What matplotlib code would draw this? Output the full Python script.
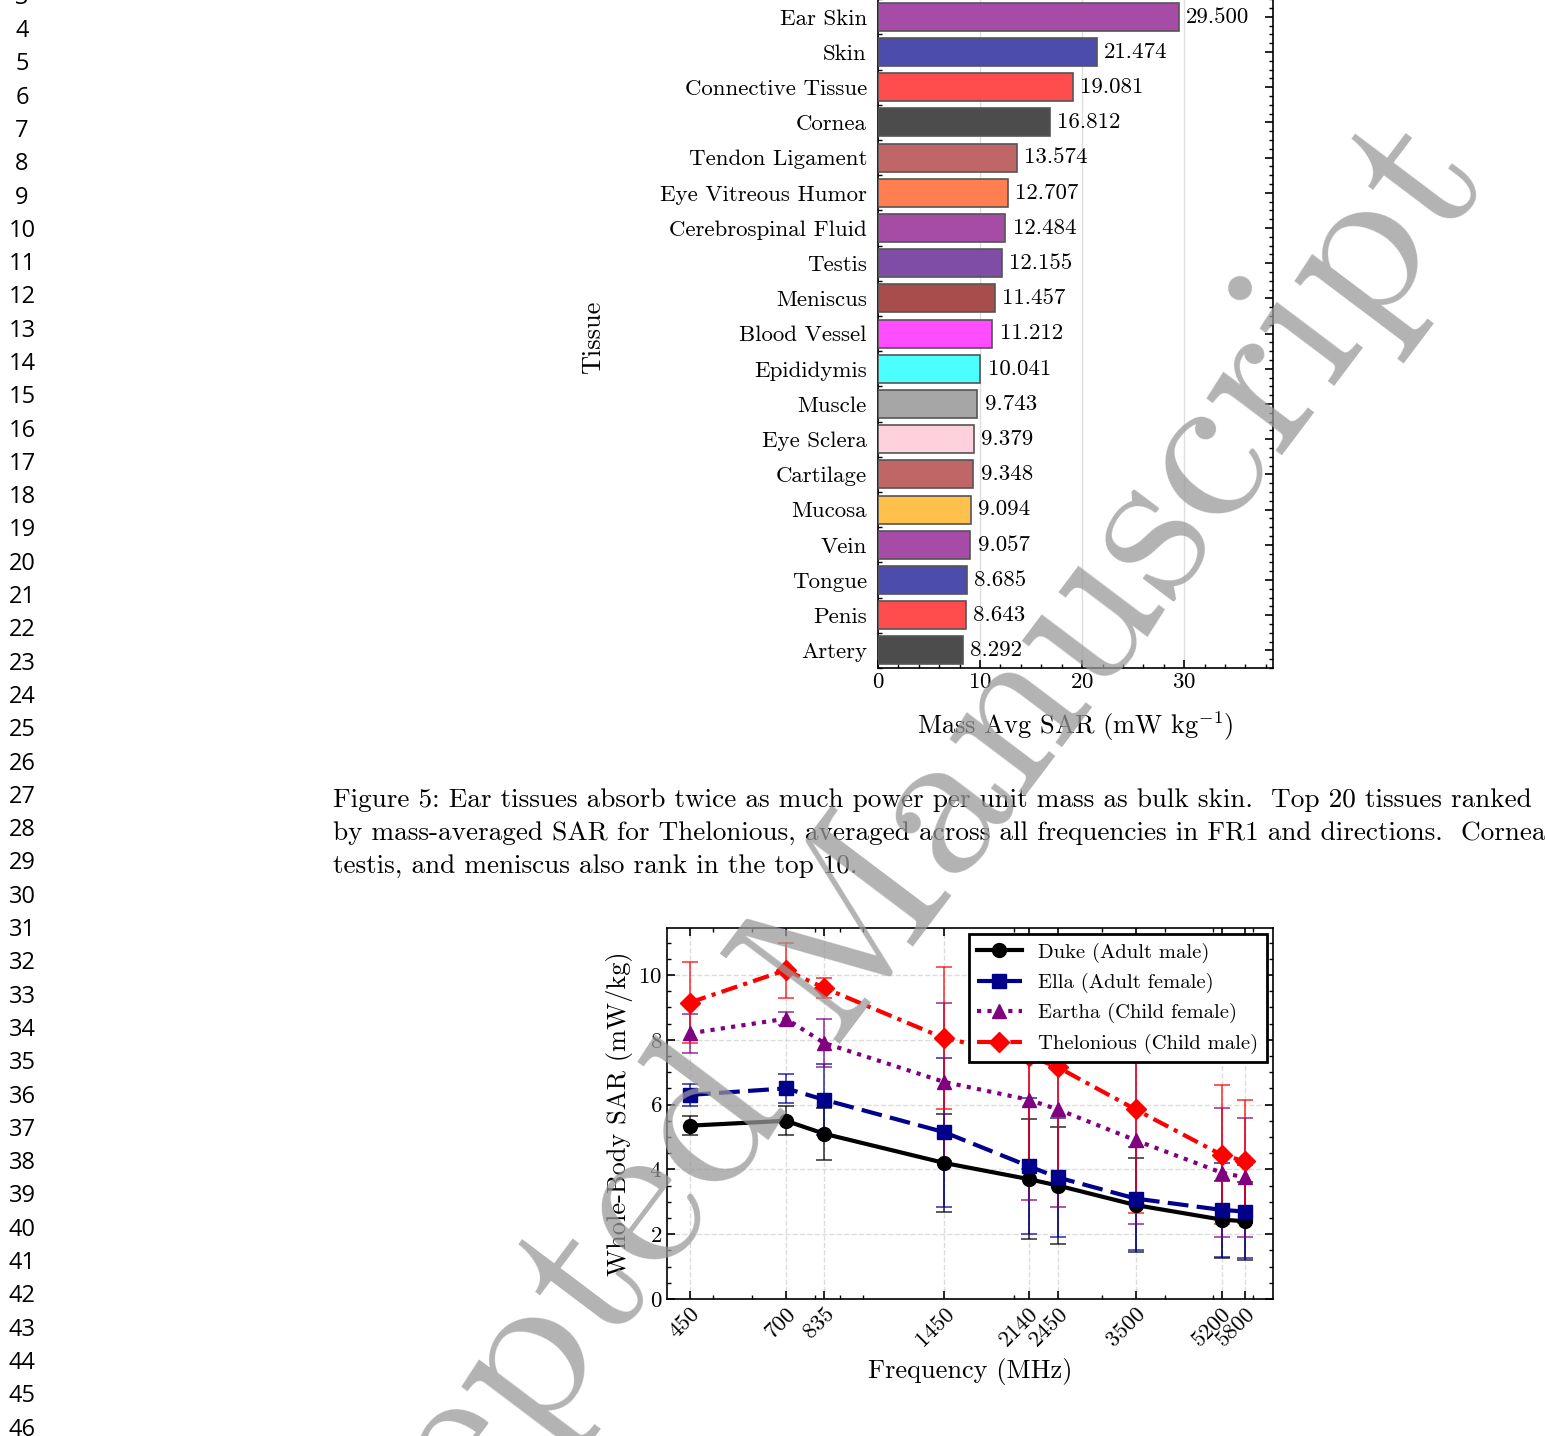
import numpy as np
import matplotlib
matplotlib.use('Agg')
import matplotlib.pyplot as plt
from matplotlib.lines import Line2D
from matplotlib.ticker import FixedLocator, NullFormatter, LogLocator, AutoMinorLocator

plt.rcParams['font.family'] = 'serif'
plt.rcParams['font.serif'] = ['cmr10', 'DejaVu Serif']
plt.rcParams['mathtext.fontset'] = 'cm'
plt.rcParams['axes.formatter.use_mathtext'] = True
plt.rcParams['axes.unicode_minus'] = False

# top chart: tissue SAR
tissues = ['Ear Skin', 'Skin', 'Connective Tissue', 'Cornea', 'Tendon Ligament',
           'Eye Vitreous Humor', 'Cerebrospinal Fluid', 'Testis', 'Meniscus',
           'Blood Vessel', 'Epididymis', 'Muscle', 'Eye Sclera', 'Cartilage',
           'Mucosa', 'Vein', 'Tongue', 'Penis', 'Artery']
sar = [29.500, 21.474, 19.081, 16.812, 13.574, 12.707, 12.484, 12.155, 11.457,
       11.212, 10.041, 9.743, 9.379, 9.348, 9.094, 9.057, 8.685, 8.643, 8.292]
bar_colors = ['#a64ca6', '#4c4cac', '#ff4c4c', '#4c4c4c', '#c16666', '#ff7f50',
              '#a64ca6', '#7f4ca6', '#a94c4c', '#ff4cff', '#4cffff', '#a6a6a6',
              '#ffd1dc', '#c16666', '#ffc04c', '#a64ca6', '#4c4cac', '#ff4c4c',
              '#4c4c4c']

# bottom chart: whole-body SAR vs frequency
freq = [450, 700, 835, 1450, 2140, 2450, 3500, 5200, 5800]
duke = [5.35, 5.5, 5.1, 4.2, 3.7, 3.5, 2.9, 2.45, 2.4]
duke_err = [0.3, 0.45, 0.8, 1.5, 1.85, 1.8, 1.45, 1.2, 1.2]
ella = [6.3, 6.5, 6.15, 5.15, 4.1, 3.75, 3.1, 2.75, 2.7]
ella_err = [0.35, 0.45, 1.1, 2.3, 2.1, 1.85, 1.6, 1.45, 1.45]
eartha = [8.2, 8.65, 7.9, 6.7, 6.15, 5.85, 4.9, 3.9, 3.75]
eartha_err = [0.6, 0.2, 0.75, 2.45, 3.1, 3.0, 2.6, 2.0, 1.85]
thel = [9.15, 10.15, 9.6, 8.05, 7.5, 7.15, 5.85, 4.45, 4.25]
thel_err = [1.25, 0.85, 0.3, 2.2, 3.5, 3.6, 3.2, 2.15, 1.9]

W, H = 1545, 1436
fig = plt.figure(figsize=(W / 100, H / 100), dpi=100)

def style_ax(ax, lsize):
    ax.tick_params(which='both', direction='in', top=True, right=True)
    ax.tick_params(which='major', length=6, width=1.2, labelsize=lsize)
    ax.tick_params(which='minor', length=3, width=1)
    for s in ax.spines.values():
        s.set_linewidth(1.2)

# ---- bar chart
ax1 = fig.add_axes([878 / W, (H - 668) / H, 395 / W, (668 + 36) / H])
y = np.arange(len(tissues))
ax1.barh(y, sar, height=0.8, color=bar_colors, edgecolor='#555555', linewidth=1.2, zorder=3)
for yi, v in zip(y, sar):
    ax1.text(v + 0.7, yi, f'{v:.3f}', va='center', ha='left', fontsize=16.5)
ax1.set_ylim(len(tissues) - 0.5, -1.5)
ax1.set_xlim(0, 38.7)
ax1.set_yticks(y)
ax1.set_yticklabels(tissues, fontsize=21)
ax1.set_xticks([0, 10, 20, 30])
ax1.xaxis.set_minor_locator(AutoMinorLocator(5))
ax1.yaxis.set_minor_locator(AutoMinorLocator(4))
ax1.grid(axis='x', color='#dddddd', linewidth=1, zorder=0)
style_ax(ax1, 16.5)
ax1.tick_params(axis='y', which='major', pad=8)
ax1.set_xlabel('Mass Avg SAR (mW kg$^{-1}$)', fontsize=19, labelpad=12)
ax1.set_ylabel('Tissue', fontsize=19)
ax1.yaxis.set_label_coords(-0.69, 0.47)

# ---- caption
cap = ['Figure 5: Ear tissues absorb twice as much power per unit mass as bulk skin.  Top 20 tissues ranked',
       'by mass-averaged SAR for Thelonious, averaged across all frequencies in FR1 and directions.  Cornea,',
       'testis, and meniscus also rank in the top 10.']
for i, line in enumerate(cap):
    fig.text(333 / W, 1 - (800 + i * 33) / H, line, fontsize=19.6, va='center', ha='left')

# ---- line chart
ax2 = fig.add_axes([667 / W, (H - 1299) / H, 606 / W, 371 / H])
series = [
    (duke, duke_err, 'black', 'o', '-', 'Duke (Adult male)'),
    (ella, ella_err, '#00008b', 's', (0, (5, 2)), 'Ella (Adult female)'),
    (eartha, eartha_err, 'purple', '^', (0, (1, 1.5)), 'Eartha (Child female)'),
    (thel, thel_err, 'red', 'D', (0, (4, 1.5, 1, 1.5)), 'Thelonious (Child male)'),
]
handles = []
for vals, err, c, m, ls, lab in series:
    ax2.errorbar(freq, vals, yerr=err, color=c, marker=m, markersize=10, linestyle=ls,
                 linewidth=3, capsize=6, elinewidth=1.3, capthick=1.3,
                 ecolor=matplotlib.colors.to_rgba(c, 0.7))
    handles.append(Line2D([], [], color=c, marker=m, markersize=10, linestyle=ls,
                          linewidth=3, label=lab))
ax2.set_xscale('log')
ax2.set_xlim(405, 6590)
ax2.set_ylim(0, 11.45)
ax2.xaxis.set_major_locator(FixedLocator(freq))
ax2.xaxis.set_minor_locator(LogLocator(subs=np.arange(1, 10)))
ax2.xaxis.set_minor_formatter(NullFormatter())
ax2.set_xticklabels([str(f) for f in freq], rotation=45, ha='right', rotation_mode='anchor')
ax2.set_yticks([0, 2, 4, 6, 8, 10])
ax2.yaxis.set_minor_locator(AutoMinorLocator(4))
ax2.grid(True, which='major', linestyle='--', color='#dddddd', linewidth=1)
style_ax(ax2, 16.5)
ax2.set_xlabel('Frequency (MHz)', fontsize=19, labelpad=6)
ax2.set_ylabel('Whole-Body SAR (mW/kg)', fontsize=19)
leg = ax2.legend(handles=handles, loc='upper right', fontsize=14.8, fancybox=False,
                 edgecolor='black', framealpha=1, borderaxespad=0.3, handlelength=2.2)
leg.get_frame().set_linewidth(2)

# ---- line numbers
for n in range(3, 47):
    fig.text(22 / W, 1 - (31 + (n - 4) * 33.3) / H, str(n), fontsize=17,
             family='Open Sans', ha='center', va='center')

# ---- watermark
fig.text(830 / W, 1 - 960 / H, 'Accepted Manuscript', fontsize=158, color='#999999',
         alpha=0.75, rotation=53, ha='center', va='center', zorder=10)

fig.savefig('out.png', dpi=100)
